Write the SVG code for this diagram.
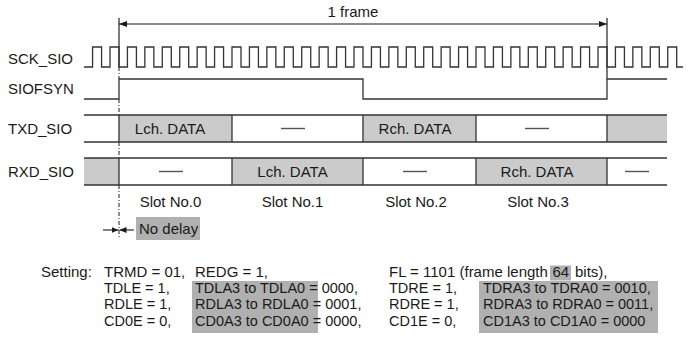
<svg xmlns="http://www.w3.org/2000/svg" width="689" height="338" viewBox="0 0 689 338">
<style>
text{font-family:"Liberation Sans",Arial,sans-serif;fill:#1a1a1a;font-size:15px}
.c{text-anchor:middle}
.s{font-size:14.5px}
.w{fill:none;stroke:#333;stroke-width:1.3}
.g{fill:#cbcbcb}
.hl{fill:#b0b0b0}
.dash{stroke:#555;stroke-width:1.4}
.guide{fill:none;stroke:#333;stroke-width:1.1;stroke-dasharray:4 2 1 2}
</style>
<defs>
<marker id="ah" viewBox="0 0 8 6" refX="8" refY="3" markerWidth="8" markerHeight="6" markerUnits="userSpaceOnUse" orient="auto-start-reverse">
<path d="M0,0 L8,3 L0,6 z" fill="#1a1a1a"/>
</marker>
<marker id="sa" viewBox="0 0 7 6" refX="7" refY="3" markerWidth="7" markerHeight="6" markerUnits="userSpaceOnUse" orient="auto">
<path d="M0,0 L7,3 L0,6 z" fill="#1a1a1a"/>
</marker>
</defs>
<rect width="689" height="338" fill="#fff"/>

<g id="signal-labels">
<text x="8" y="64">SCK_SIO</text>
<text x="8" y="94">SIOFSYN</text>
<text x="8" y="134">TXD_SIO</text>
<text x="8" y="177">RXD_SIO</text>
</g>

<g id="frame">
<line class="w" x1="119" y1="18" x2="119" y2="67"/>
<line class="w" x1="607" y1="18" x2="607" y2="79"/>
<text class="c" x="353" y="17">1 frame</text>
</g>

<g id="sck">
<path class="w" d="M84 67 H92.57 V47 H101.57 V67 H110 V47 H119 V67 H127.43 V47 H136.43 V67 H144.86 V47 H153.86 V67 H162.29 V47 H171.29 V67 H179.71 V47 H188.71 V67 H197.14 V47 H206.14 V67 H214.57 V47 H223.57 V67 H232 V47 H241 V67 H249.43 V47 H258.43 V67 H266.86 V47 H275.86 V67 H284.29 V47 H293.29 V67 H301.71 V47 H310.71 V67 H319.14 V47 H328.14 V67 H336.57 V47 H345.57 V67 H354 V47 H363 V67 H371.43 V47 H380.43 V67 H388.86 V47 H397.86 V67 H406.29 V47 H415.29 V67 H423.71 V47 H432.71 V67 H441.14 V47 H450.14 V67 H458.57 V47 H467.57 V67 H476 V47 H485 V67 H493.43 V47 H502.43 V67 H510.86 V47 H519.86 V67 H528.29 V47 H537.29 V67 H545.71 V47 H554.71 V67 H563.14 V47 H572.14 V67 H580.57 V47 H589.57 V67 H598 V47 H607 V67 H615.43 V47 H624.43 V67 H632.86 V47 H641.86 V67 H650.29 V47 H659.29 V67 H667.71 V47 H676.71 V67 H683"/>
</g>

<g id="siofsyn">
<path class="w" d="M84 99 H119 V79 H363 V99 H607 V79 H667"/>
</g>

<g id="txd">
<rect class="g" x="119" y="115" width="113" height="27"/>
<rect class="g" x="363" y="115" width="113" height="27"/>
<rect class="g" x="607" y="115" width="60" height="27"/>
<path class="w" d="M84 115 H667 M84 142 H667 M119 115 V142 M232 115 V142 M363 115 V142 M476 115 V142 M607 115 V142"/>
<text class="c" x="170" y="134">Lch. DATA</text>
<line class="dash" x1="281" y1="128.5" x2="305" y2="128.5"/>
<text class="c" x="415" y="134">Rch. DATA</text>
<line class="dash" x1="525" y1="128.5" x2="549" y2="128.5"/>
</g>

<g id="rxd">
<rect class="g" x="84" y="158" width="35" height="27"/>
<rect class="g" x="232" y="158" width="131" height="27"/>
<rect class="g" x="476" y="158" width="131" height="27"/>
<path class="w" d="M84 158 H667 M84 185 H667 M119 158 V185 M232 158 V185 M363 158 V185 M476 158 V185 M607 158 V185"/>
<line class="dash" x1="159" y1="171.5" x2="183" y2="171.5"/>
<text class="c" x="292.5" y="177">Lch. DATA</text>
<line class="dash" x1="403" y1="171.5" x2="427" y2="171.5"/>
<text class="c" x="537" y="177">Rch. DATA</text>
<line class="dash" x1="625" y1="171.5" x2="649" y2="171.5"/>
</g>

<g id="guide">
<path class="guide" d="M119 67 V79 M119 99 V115 M119 142 V158 M119 185 V238"/>
</g>

<g id="slots">
<text class="c" x="170.5" y="207">Slot No.0</text>
<text class="c" x="292.5" y="207">Slot No.1</text>
<text class="c" x="416" y="207">Slot No.2</text>
<text class="c" x="538" y="207">Slot No.3</text>
</g>

<g id="no-delay">
<rect class="hl" x="136" y="217" width="64" height="23"/>
<text x="139" y="234">No delay</text>
</g>

<g id="connectors">
<line x1="119" y1="24" x2="607" y2="24" stroke="#1a1a1a" stroke-width="1.1" marker-start="url(#ah)" marker-end="url(#ah)"/>
<line x1="103" y1="230" x2="118.5" y2="230" stroke="#1a1a1a" stroke-width="1.1" marker-end="url(#sa)"/>
<line x1="134" y1="230" x2="119.5" y2="230" stroke="#1a1a1a" stroke-width="1.1" marker-end="url(#sa)"/>
</g>

<g id="settings">
<rect class="hl" x="550" y="265.5" width="21" height="15"/>
<rect class="hl" x="192" y="281" width="126" height="52"/>
<rect class="hl" x="479" y="281" width="179" height="52"/>
<text x="41" y="276.5">Setting:</text>
<text x="104" y="276.5">TRMD = 01,</text>
<text x="195" y="276.5">REDG = 1,</text>
<text x="389" y="276.5">FL = 1101 (frame length <tspan x="552.5">64</tspan><tspan x="575">bits),</tspan></text>
<text class="s" x="104" y="293.2">TDLE = 1,</text>
<text class="s" x="195" y="293.2">TDLA3 to TDLA0 = 0000,</text>
<text class="s" x="389" y="293.2">TDRE = 1,</text>
<text class="s" x="483" y="293.2">TDRA3 to TDRA0 = 0010,</text>
<text class="s" x="104" y="309.4">RDLE = 1,</text>
<text class="s" x="195" y="309.4">RDLA3 to RDLA0 = 0001,</text>
<text class="s" x="389" y="309.4">RDRE = 1,</text>
<text class="s" x="483" y="309.4">RDRA3 to RDRA0 = 0011,</text>
<text class="s" x="104" y="325.6">CD0E = 0,</text>
<text class="s" x="195" y="325.6">CD0A3 to CD0A0 = 0000,</text>
<text class="s" x="389" y="325.6">CD1E = 0,</text>
<text class="s" x="483" y="325.6">CD1A3 to CD1A0 = 0000</text>
</g>
</svg>
